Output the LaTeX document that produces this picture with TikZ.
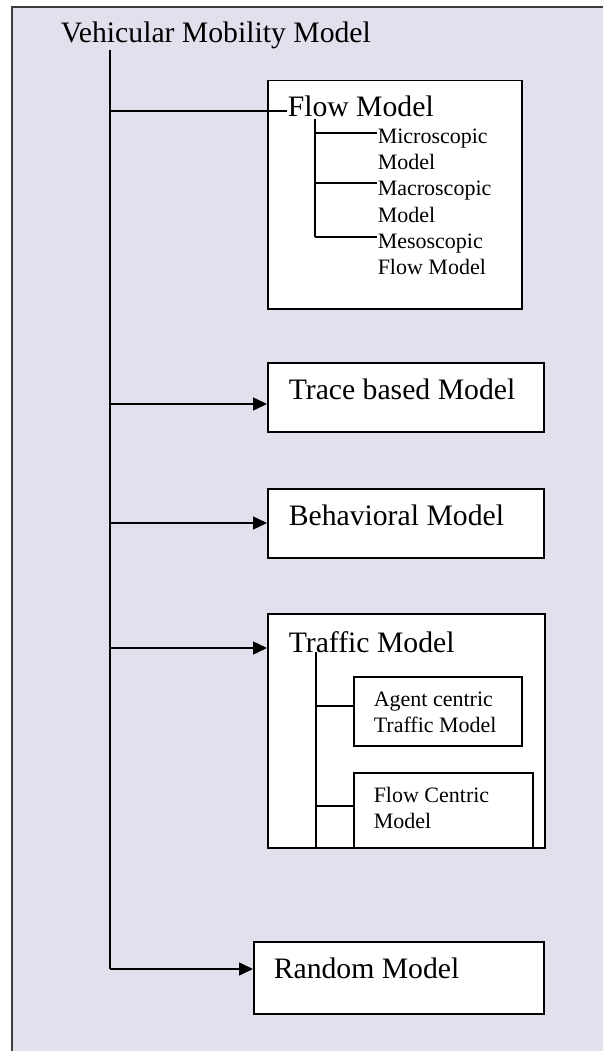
\documentclass[tikz,border=0pt]{standalone}
\usepackage{fontspec}
\setmainfont{Liberation Serif}
\usetikzlibrary{arrows.meta}
\definecolor{bglav}{RGB}{227,223,236}
\definecolor{framegray}{RGB}{60,60,60}

\begin{document}
\begin{tikzpicture}[x=1pt,y=-1pt,line width=1.5pt,
    box/.style={draw=black,fill=white,anchor=north west,inner sep=0pt},
    big/.style={font=\fontsize{29.7}{34}\selectfont,anchor=base west,inner sep=0pt},
    small/.style={font=\fontsize{22}{26}\selectfont,anchor=base west,inner sep=0pt,align=left},
    arr/.style={-{Triangle[length=14pt,width=13pt]}}]
    \useasboundingbox (0,0) rectangle (603,1051);
    % Background
    \fill[bglav] (12,7) rectangle (603,1051);
    \draw[framegray,line width=1.2pt] (12,1051) -- (12,7) -- (603,7);
    % Boxes
    \node[box,minimum width=254pt,minimum height=228pt] (flowbox) at (267,80) {};
    \node[box,minimum width=276pt,minimum height=69pt] (tracebox) at (267,362) {};
    \node[box,minimum width=276pt,minimum height=69pt] (behavbox) at (267,488) {};
    \node[box,minimum width=277pt,minimum height=234pt] (trafficbox) at (267,613) {};
    \node[box,minimum width=168pt,minimum height=69pt] (agentbox) at (353,676) {};
    \node[box,minimum width=179pt,minimum height=75pt] (flowcbox) at (353,772) {};
    \node[box,minimum width=290pt,minimum height=72pt] (randbox) at (253,941) {};
    % Labels (two-line labels sit on their last baseline)
    \node[big] (root) at (60,43) {Vehicular Mobility Model};
    \node[big] (flowtxt) at (287,117) {Flow Model};
    \node[small] (micro) at (377,170) {Microscopic\\Model};
    \node[small] (macro) at (377,222) {Macroscopic\\Model};
    \node[small] (meso) at (377,274) {Mesoscopic\\Flow Model};
    \node[big] (tracetxt) at (288,399) {Trace based Model};
    \node[big] (behavtxt) at (288,525) {Behavioral Model};
    \node[big] (traffictxt) at (288,652) {Traffic Model};
    \node[small] (agent) at (373,732) {Agent centric\\Traffic Model};
    \node[small] (flowc) at (373,828) {Flow Centric\\Model};
    \node[big] (randtxt) at (273,978) {Random Model};
    % Trunk
    \coordinate (ctop) at (110,50);
    \coordinate (cflow) at (110,111);
    \coordinate (ctrace) at (110,404);
    \coordinate (cbehav) at (110,523);
    \coordinate (ctraffic) at (110,648);
    \coordinate (cend) at (110,969);
    \draw (ctop) -- (cend);
    \draw (cflow) -- (cflow -| flowtxt.west);
    \foreach \c/\b in {ctrace/tracebox, cbehav/behavbox, ctraffic/trafficbox, cend/randbox} {
        \draw[arr] (\c) -- (\c -| \b.west);
    }
    % Flow model branches
    \coordinate (ftop) at (315,119);
    \coordinate (fa) at (315,133);
    \coordinate (fb) at (315,183);
    \coordinate (fc) at (315,237);
    \draw (ftop) -- (fc);
    \foreach \c/\t in {fa/micro, fb/macro, fc/meso} {
        \draw (\c) -- (\c -| \t.west);
    }
    % Traffic model branches
    \coordinate (ttop) at (316,652);
    \coordinate (ta) at (316,706);
    \coordinate (tb) at (316,806);
    \draw (ttop) -- (ttop |- trafficbox.south);
    \draw (ta) -- (ta -| agentbox.west);
    \draw (tb) -- (tb -| flowcbox.west);
\end{tikzpicture}
\end{document}
